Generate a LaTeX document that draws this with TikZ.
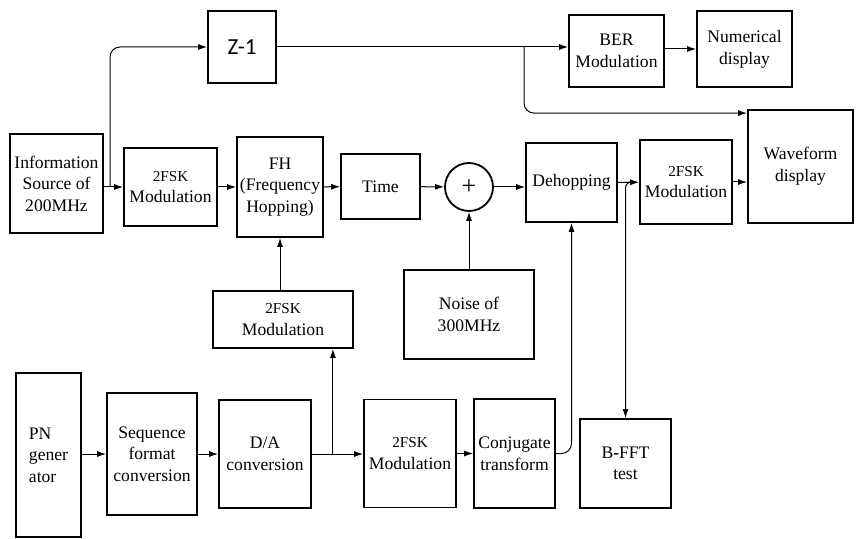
\documentclass[tikz,border=0pt]{standalone}
\usepackage{fontspec}
\setmainfont{Liberation Serif}
\newfontfamily\zfont{Carlito}
\usetikzlibrary{arrows.meta,calc}
\newcommand{\fsk}{{\fontsize{7.6pt}{9pt}\selectfont 2FSK}}

\begin{document}
\begin{tikzpicture}[
      x=0.5pt, y=-0.5pt,
      every node/.style={font=\fontsize{8.8pt}{10.8pt}\selectfont},
      blk/.style={draw, line width=0.9pt, inner sep=0pt, align=center},
      sz/.style 2 args={minimum width=#1*0.5pt, minimum height=#2*0.5pt},
      sumnode/.style={draw, circle, line width=0.9pt, minimum size=24pt,
                      inner sep=0pt, font=\fontsize{13pt}{13pt}\selectfont},
      flow/.style={-{Latex[length=4.5pt,width=3pt]}, line width=0.5pt}
    ]
    \useasboundingbox (0,0) rectangle (856,539);

    % Upper chain
    \node[blk, sz={93}{99}]  (info)  at (56.5,183.5) {Information\\Source of\\200MHz};
    \node[blk, sz={93}{78}]  (mod1)  at (170.5,187)  {\fsk\\Modulation};
    \node[blk, sz={86}{100}] (fh)    at (280,187)    {FH\\(Frequency\\Hopping)};
    \node[blk, sz={79}{65}]  (time)  at (380.5,186.5) {Time};
    \node[sumnode]           (sum)   at (469,187)    {+};
    \node[blk, sz={91}{79}]  (dehop) at (571.5,182.5) {Dehopping};
    \node[blk, sz={92}{84}]  (mod4)  at (686,182)    {\fsk\\Modulation};
    \node[blk, sz={105}{113}] (wave) at (800.5,166.5) {Waveform\\display};

    % Top row
    \node[blk, sz={68}{72}]  (z1)    at (242,47)     {\zfont\fontsize{11.5pt}{12pt}\selectfont Z-1};
    \node[blk, sz={95}{72}]  (ber)   at (616.5,51)   {BER\\Modulation};
    \node[blk, sz={95}{76}]  (num)   at (744.5,49)   {Numerical\\display};

    % Middle
    \node[blk, sz={130}{89}] (noise) at (469,314.5)  {Noise of\\300MHz};
    \node[blk, sz={140}{57}] (mod3)  at (283,319.5)  {\fsk\\Modulation};

    % Lower chain
    \node[blk, sz={65}{164}, align=left] (pn) at (48.5,455) {PN\\gener\\ator};
    \node[blk, sz={90}{122}] (seq)   at (152,454)    {Sequence\\format\\conversion};
    \node[blk, sz={92}{108}] (da)    at (265,454)    {D/A\\conversion};
    \node[blk, sz={92}{108}] (mod5)  at (410,453.5)  {\fsk\\Modulation};
    \node[blk, sz={81}{109}] (conj)  at (514.5,453.5) {Conjugate\\transform};
    \node[blk, sz={91}{89}]  (fft)   at (625.5,463.5) {B\textbf{-}FFT\\test};

    % Split points
    \coordinate (s1) at (110,187);
    \coordinate (s2) at (524,47);
    \coordinate (s4) at ($(da.east)+(21,0)$);

    % Upper flows
    \draw[flow] (info.east |- mod1.west) -- (mod1.west);
    \draw[flow, rounded corners=5pt] (s1) |- (z1.west);
    \draw[flow] (mod1) -- (fh);
    \draw[flow] (fh) -- (time);
    \draw[flow] (time) -- (sum);
    \draw[flow] (sum.east) -- (sum.east -| dehop.west);
    \draw[flow] (dehop) -- (mod4);
    \draw[flow] (mod4.east) -- (mod4.east -| wave.west);
    \draw[flow, rounded corners=3pt] ($(fft.north |- mod4.west)+(8,0)$) -| (fft.north);

    % Top flows
    \draw[flow] (z1.east) -- (z1.east -| ber.west);
    \draw[flow, rounded corners=5pt] (s2) |- ($(wave.north west)+(0,4)$);
    \draw[flow] (ber.east |- num.west) -- (num.west);

    % Noise
    \draw[flow] (noise) -- (sum);

    % Lower flows
    \draw[flow] (pn.east |- seq.west) -- (seq.west);
    \draw[flow] (seq) -- (da);
    \draw[flow] (da.east) -- (da.east -| mod5.west);
    \draw[flow] (s4) -- (s4 |- mod3.south);
    \draw[flow] (mod3.north -| fh.south) -- (fh.south);
    \draw[flow] (mod5) -- (conj);
    \draw[flow, rounded corners=5pt] (conj.east) -| (dehop.south);
  \end{tikzpicture}
\end{document}
